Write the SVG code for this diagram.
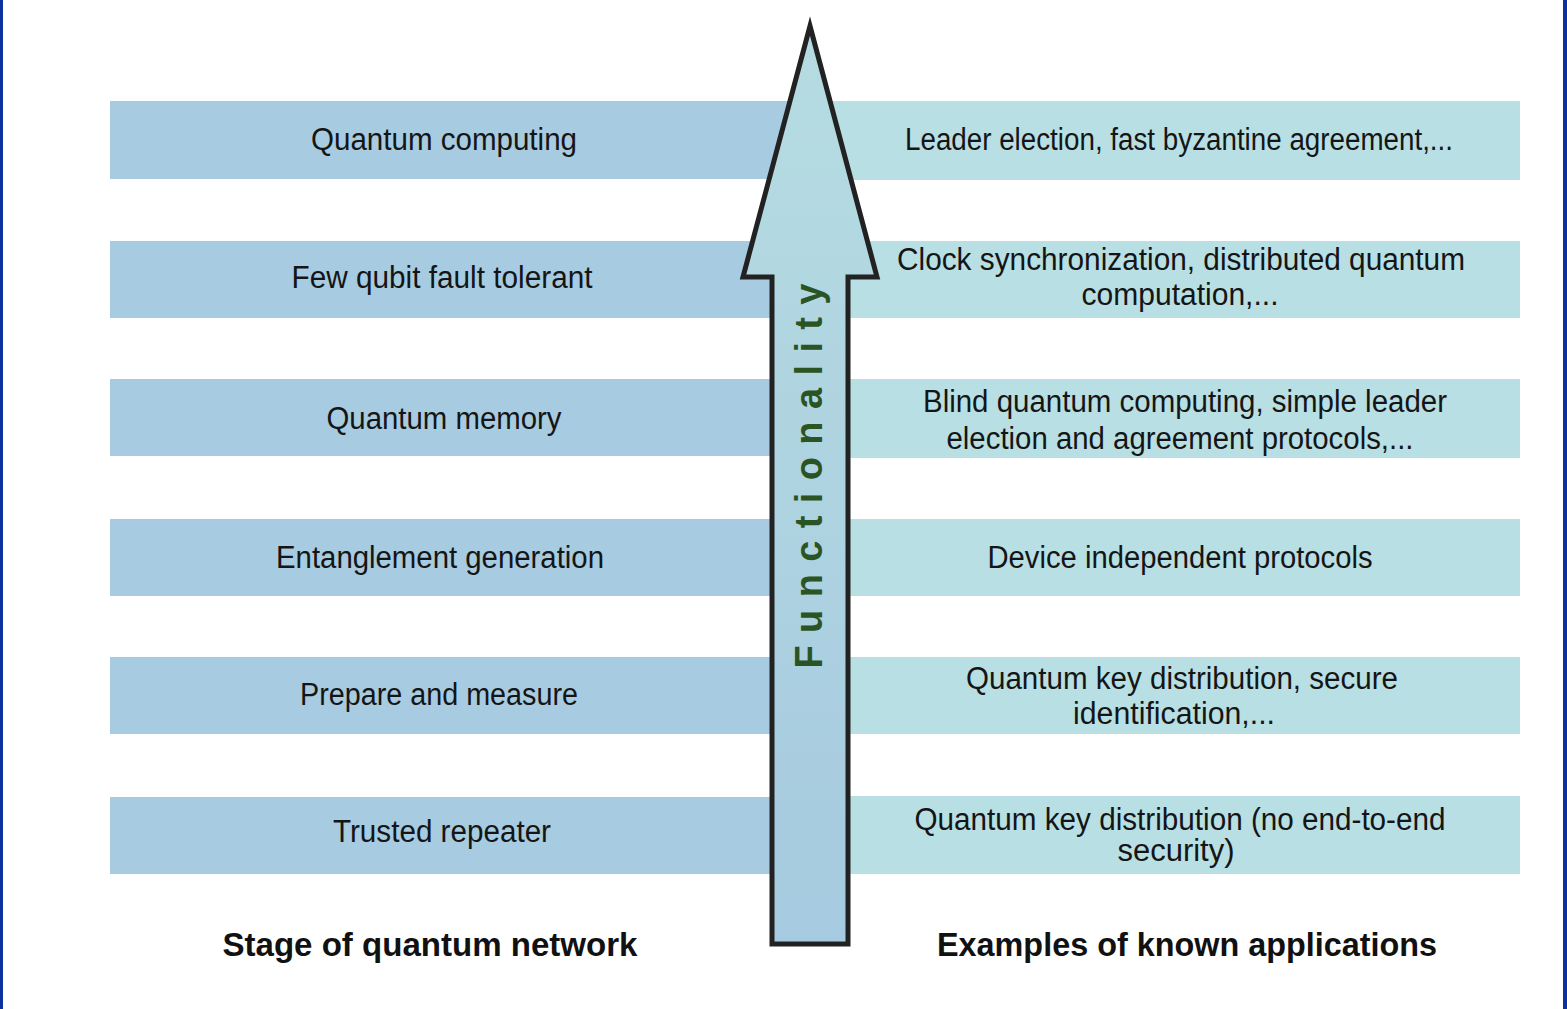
<svg xmlns="http://www.w3.org/2000/svg" width="1567" height="1009" viewBox="0 0 1567 1009">
<defs>
<linearGradient id="ag" x1="0" y1="0" x2="0" y2="1">
<stop offset="0" stop-color="#b6dce2"/>
<stop offset="1" stop-color="#a6cadf"/>
</linearGradient>
</defs>
<style>
.bl{fill:#a7cbe0}
.br{fill:#b8dfe3}
.t{font-family:"Liberation Sans",Arial,sans-serif;font-size:31px;fill:#151515;text-anchor:middle}
.h{font-family:"Liberation Sans",Arial,sans-serif;font-size:33px;font-weight:bold;fill:#111;text-anchor:middle}
.f{font-family:"Liberation Sans",Arial,sans-serif;font-size:38px;font-weight:bold;fill:#2b5424;text-anchor:middle}
</style>
<rect width="1567" height="1009" fill="#fff"/>
<rect x="0" y="0" width="3" height="1009" fill="#0a33a0"/>
<rect x="1563" y="0" width="4" height="1009" fill="#0a33a0"/>
<g id="stage-quantum-computing"><rect class="bl" x="110" y="101" width="700" height="78"/><text class="t" x="444" y="150" textLength="266" lengthAdjust="spacingAndGlyphs">Quantum computing</text></g>
<g id="stage-few-qubit"><rect class="bl" x="110" y="241" width="700" height="77"/><text class="t" x="442" y="288" textLength="301" lengthAdjust="spacingAndGlyphs">Few qubit fault tolerant</text></g>
<g id="stage-quantum-memory"><rect class="bl" x="110" y="379" width="700" height="77"/><text class="t" x="444" y="429" textLength="235" lengthAdjust="spacingAndGlyphs">Quantum memory</text></g>
<g id="stage-entanglement"><rect class="bl" x="110" y="519" width="700" height="77"/><text class="t" x="440" y="568" textLength="328" lengthAdjust="spacingAndGlyphs">Entanglement generation</text></g>
<g id="stage-prepare-measure"><rect class="bl" x="110" y="657" width="700" height="77"/><text class="t" x="439" y="705" textLength="278" lengthAdjust="spacingAndGlyphs">Prepare and measure</text></g>
<g id="stage-trusted-repeater"><rect class="bl" x="110" y="797" width="700" height="77"/><text class="t" x="442" y="842" textLength="218" lengthAdjust="spacingAndGlyphs">Trusted repeater</text></g>
<g id="app-leader"><rect class="br" x="810" y="101" width="710" height="79"/><text class="t" x="1179" y="150" textLength="548" lengthAdjust="spacingAndGlyphs">Leader election, fast byzantine agreement,...</text></g>
<g id="app-clock"><rect class="br" x="810" y="241" width="710" height="77"/><text class="t" x="1181" y="270" textLength="568" lengthAdjust="spacingAndGlyphs">Clock synchronization, distributed quantum</text><text class="t" x="1180" y="305" textLength="197" lengthAdjust="spacingAndGlyphs">computation,...</text></g>
<g id="app-blind"><rect class="br" x="810" y="379" width="710" height="79"/><text class="t" x="1185" y="412" textLength="524" lengthAdjust="spacingAndGlyphs">Blind quantum computing, simple leader</text><text class="t" x="1180" y="449" textLength="467" lengthAdjust="spacingAndGlyphs">election and agreement protocols,...</text></g>
<g id="app-device"><rect class="br" x="810" y="519" width="710" height="77"/><text class="t" x="1180" y="568" textLength="385" lengthAdjust="spacingAndGlyphs">Device independent protocols</text></g>
<g id="app-qkd"><rect class="br" x="810" y="657" width="710" height="77"/><text class="t" x="1182" y="689" textLength="432" lengthAdjust="spacingAndGlyphs">Quantum key distribution, secure</text><text class="t" x="1174" y="724" textLength="202" lengthAdjust="spacingAndGlyphs">identification,...</text></g>
<g id="app-qkd-noe2e"><rect class="br" x="810" y="796" width="710" height="78"/><text class="t" x="1180" y="830" textLength="531" lengthAdjust="spacingAndGlyphs">Quantum key distribution (no end-to-end</text><text class="t" x="1176" y="861" textLength="117" lengthAdjust="spacingAndGlyphs">security)</text></g>
<g id="functionality-arrow">
<path d="M810,26 L877,277 L848,277 L848,944 L772,944 L772,277 L743,277 Z" fill="url(#ag)" stroke="#222" stroke-width="5" stroke-linejoin="miter"/>
<text class="f" transform="translate(822,476) rotate(-90)" x="0" y="0" textLength="385" lengthAdjust="spacing">Functionality</text>
</g>
<g id="headers">
<text class="h" x="430" y="956" textLength="415" lengthAdjust="spacingAndGlyphs">Stage of quantum network</text>
<text class="h" x="1187" y="956" textLength="500" lengthAdjust="spacingAndGlyphs">Examples of known applications</text>
</g>
<g id="connectors"></g>
</svg>
